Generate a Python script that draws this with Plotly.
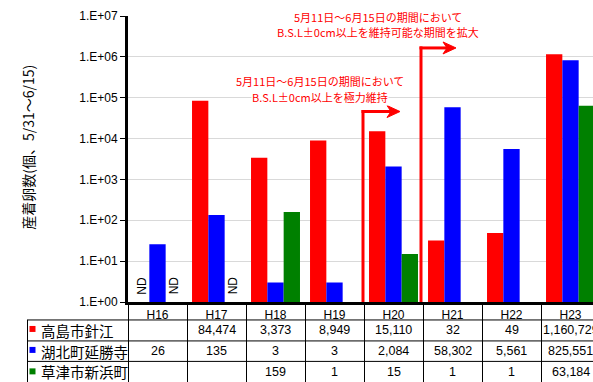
import plotly.graph_objects as go

# ---------------- data ----------------
years = ["H16", "H17", "H18", "H19", "H20", "H21", "H22", "H23"]
series_names = ["高島市針江", "湖北町延勝寺", "草津市新浜町"]
takashima = [None, 84474, 3373, 8949, 15110, 32, 49, 1160729]
kohoku = [26, 135, 3, 3, 2084, 58302, 5561, 825551]
kusatsu = [None, None, 159, 1, 15, 1, 1, 63184]
series_values = [takashima, kohoku, kusatsu]
series_colors = ["#FF0000", "#0000FF", "#008000"]
y_tickvals = [1, 10, 100, 1000, 10000, 100000, 1000000, 10000000]
y_ticktext = ["1.E+00", "1.E+01", "1.E+02", "1.E+03", "1.E+04", "1.E+05", "1.E+06", "1.E+07"]
y_title = "産着卵数(個、5/31～6/15)"
note1_lines = ["5月11日～6月15日の期間において", "B.S.L±0cm以上を維持可能な期間を拡大"]
note2_lines = ["5月11日～6月15日の期間において", "B.S.L±0cm以上を極力維持"]

# ---------------- layout geometry ----------------
W, H_FIG = 593, 382
L, T = 128, 16
PB = 302.5                     # plot bottom pixel
PH = PB - T                    # plot height
CAT = 59.0                     # px per category
XMAX = -0.5 + (W - L) / CAT
FONT = "Liberation Sans, Noto Sans CJK JP, sans-serif"
JFONT = "Noto Sans CJK JP, sans-serif"
BARGAP = 0.17
BW = (1 - BARGAP) / 3


def py(p):          # pixel y -> paper y
    return (PB - p) / PH


def px(p):          # pixel x -> paper x
    return (p - L) / (W - L)


def xd(p):          # pixel x -> data x
    return -0.5 + (p - L) / CAT


def ly(p):          # pixel y -> log10 data
    return (PB - p) / (PH / 7)


fig = go.Figure()
for name, vals, col in zip(series_names, series_values, series_colors):
    fig.add_trace(go.Bar(x=years, y=vals, name=name, marker=dict(color=col, line=dict(width=0)),
                         showlegend=False, hoverinfo="x+y"))

annotations = []
shapes = []

# ND labels
for s, vals in enumerate(series_values):
    for i, v in enumerate(vals):
        if v is None:
            annotations.append(dict(x=i + (s - 1) * BW, y=py(297), xref="x", yref="paper",
                                    text="ND", textangle=-90, showarrow=False,
                                    xanchor="center", yanchor="bottom",
                                    font=dict(size=12, color="black", family=FONT)))

# y title
annotations.append(dict(x=px(28), y=py(148), xref="paper", yref="paper", text=y_title,
                        textangle=-90, showarrow=False, xanchor="center", yanchor="middle",
                        font=dict(size=14, color="black", family=JFONT)))

# notes (one annotation per line)
for lines, cx, y_first in [(note1_lines, 378, 16.5), (note2_lines, 320, 81.5)]:
    for j, line in enumerate(lines):
        annotations.append(dict(x=xd(cx), y=ly(y_first + 16 * j), xref="x", yref="y", text=line,
                                showarrow=False, bgcolor="white", borderpad=0,
                                font=dict(size=11, color="#FF0000", family=JFONT),
                                xanchor="center", yanchor="middle"))

# arrows (L shaped) drawn as shapes
for vx, topy, tipx in [(363, 111.7, 400), (421, 48, 456)]:
    shapes.append(dict(type="line", xref="x", yref="y", x0=xd(vx), x1=xd(vx),
                       y0=1, y1=10 ** ly(topy - 1.5),
                       line=dict(color="#FF0000", width=3)))
    shapes.append(dict(type="line", xref="paper", yref="paper", x0=px(vx - 1.5), x1=px(tipx - 6),
                       y0=py(topy), y1=py(topy), line=dict(color="#FF0000", width=3)))
    head = (f"M {px(tipx)},{py(topy)} L {px(tipx - 13)},{py(topy - 6)} "
            f"L {px(tipx - 9)},{py(topy)} L {px(tipx - 13)},{py(topy + 6)} Z")
    shapes.append(dict(type="path", xref="paper", yref="paper", path=head,
                       fillcolor="#FF0000", line=dict(color="#FF0000", width=1)))

# table
row_lines = [320.5, 341.5, 362]
row_centers = [331, 352, 372.5]
sq_centers = [329.5, 350.5, 372]
for yl in row_lines:
    shapes.append(dict(type="line", xref="paper", yref="paper", x0=px(27), x1=1.05, y0=py(yl), y1=py(yl),
                       line=dict(color="black", width=1)))
shapes.append(dict(type="line", xref="paper", yref="paper", x0=px(27.5), x1=px(27.5), y0=py(320.5), y1=py(383),
                   line=dict(color="black", width=1)))
for k in range(9):
    xx = L + 0.5 + CAT * k
    shapes.append(dict(type="line", xref="paper", yref="paper", x0=px(xx), x1=px(xx), y0=py(304), y1=py(383),
                       line=dict(color="black", width=1)))

for r, (name, vals, col) in enumerate(zip(series_names, series_values, series_colors)):
    c = sq_centers[r]
    shapes.append(dict(type="rect", xref="paper", yref="paper", x0=px(29.5), x1=px(35.5),
                       y0=py(c + 3), y1=py(c - 3), fillcolor=col, line=dict(width=0)))
    annotations.append(dict(x=px(39), y=py(row_centers[r]), xref="paper", yref="paper", text=name,
                            showarrow=False, xanchor="left", yanchor="middle",
                            font=dict(size=14.5, color="black", family=JFONT)))
    for i, v in enumerate(vals):
        if v is None:
            continue
        annotations.append(dict(x=i, y=py(row_centers[r]), xref="x", yref="paper", text=f"{v:,}",
                                showarrow=False, xanchor="center", yanchor="middle",
                                font=dict(size=12.5, color="black", family=FONT)))

fig.update_layout(
    width=W, height=H_FIG,
    margin=dict(l=L, r=0, t=T, b=H_FIG - PB, pad=0),
    paper_bgcolor="white", plot_bgcolor="white",
    barmode="group", bargap=BARGAP, bargroupgap=0,
    font=dict(family=FONT, color="black"),
    annotations=annotations, shapes=shapes,
    xaxis=dict(range=[-0.5, XMAX], showline=True, linecolor="black", linewidth=3,
               showgrid=False, ticks="", tickfont=dict(size=12, family=FONT, color="black"),
               fixedrange=True),
    yaxis=dict(type="log", range=[0, 7], tickvals=y_tickvals, ticktext=y_ticktext,
               showline=True, linecolor="black", linewidth=3, ticks="outside", ticklen=5,
               tickcolor="black", tickwidth=1, showgrid=True, gridcolor="#d9d9d9", gridwidth=1,
               tickfont=dict(size=12, family=FONT, color="black"), zeroline=False,
               fixedrange=True),
)

fig.write_html("out.html", config={"displayModeBar": False})
